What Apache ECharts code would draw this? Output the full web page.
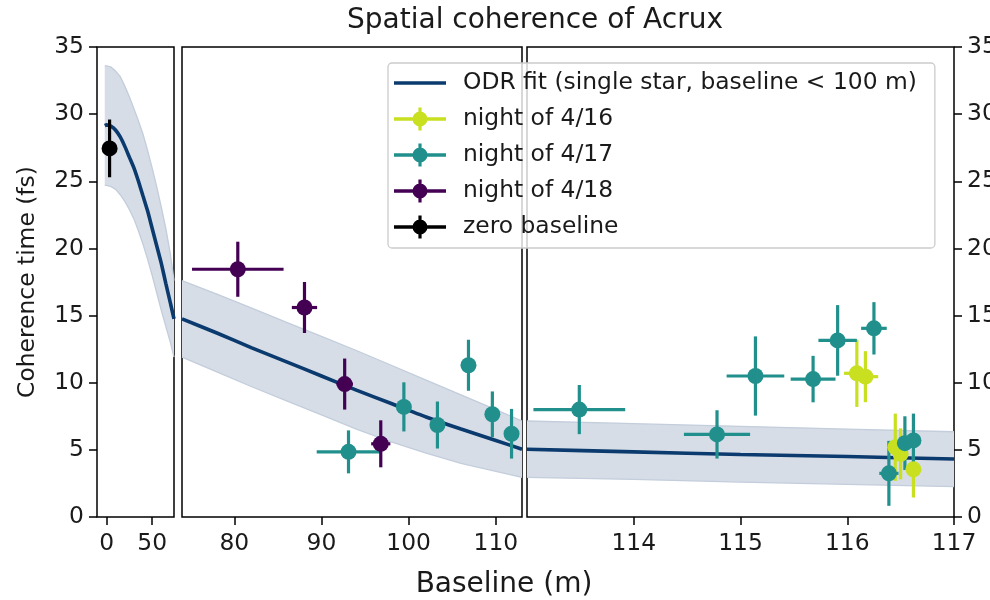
<!DOCTYPE html>
<html><head><meta charset="utf-8">
<script src="https://cdn.jsdelivr.net/npm/echarts@6/dist/echarts.min.js"></script>
<style>html,body{margin:0;padding:0;background:#fff}#c{width:990px;height:600px}</style>
</head><body><div id="c"></div>
<script>
// ---------------- data ----------------
const FIT_NAME = 'ODR fit (single star, baseline < 100 m)';
const fitBaseline = [-2, 0, 5, 10, 15, 20, 25, 30, 35, 40, 45, 50, 55, 60, 65, 70, 74, 78, 82, 86, 90, 94, 98, 102, 106, 110, 113, 114, 115, 116, 117];
const fitTime     = [29.15, 29.2, 29.1, 28.8, 28.3, 27.6, 26.8, 26.0, 25.0, 23.9, 22.8, 21.5, 20.2, 18.9, 17.4, 15.95, 14.75, 13.7, 12.6, 11.55, 10.5, 9.45, 8.45, 7.45, 6.55, 5.7, 5.05, 4.85, 4.65, 4.5, 4.32];
const fitLower    = [24.7, 24.7, 24.6, 24.4, 24.0, 23.5, 22.9, 22.2, 21.3, 20.3, 19.2, 18.0, 16.7, 15.4, 14.2, 13.0, 11.9, 10.8, 9.7, 8.65, 7.6, 6.55, 5.6, 4.75, 4.0, 3.4, 2.95, 2.8, 2.6, 2.43, 2.26];
const fitUpper    = [33.6, 33.6, 33.5, 33.2, 32.8, 32.1, 31.3, 30.4, 29.5, 28.5, 27.3, 26.0, 24.6, 23.1, 21.5, 19.6, 17.6, 16.6, 15.55, 14.5, 13.45, 12.4, 11.3, 10.2, 9.1, 8.0, 7.15, 6.95, 6.75, 6.55, 6.35];

const n16Baseline    = [116.09, 116.17, 116.45, 116.5, 116.62];
const n16Time        = [10.7, 10.45, 5.2, 4.7, 3.55];
const n16BaselineErr = [0.12, 0.12, 0.05, 0.05, 0.04];
const n16TimeErr     = [2.5, 1.9, 2.5, 1.9, 2.1];

const n17Baseline    = [93.1, 99.45, 103.3, 106.86, 109.6, 111.8, 113.49, 114.78, 115.14, 115.68, 115.91, 116.25, 116.39, 116.54, 116.62];
const n17Time        = [4.85, 8.2, 6.85, 11.3, 7.65, 6.2, 8.0, 6.15, 10.5, 10.27, 13.15, 14.05, 3.25, 5.5, 5.7];
const n17BaselineErr = [3.65, 0.5, 0.4, 0.3, 0.4, 0.4, 0.43, 0.31, 0.27, 0.21, 0.18, 0.12, 0.09, 0.05, 0.05];
const n17TimeErr     = [1.6, 1.83, 1.75, 1.9, 1.7, 1.85, 1.83, 1.8, 2.95, 1.73, 2.63, 1.95, 2.42, 2.0, 2.0];

const n18Baseline    = [80.4, 88.05, 92.66, 96.8];
const n18Time        = [18.45, 15.6, 9.9, 5.45];
const n18BaselineErr = [5.25, 1.45, 0.95, 1.1];
const n18TimeErr     = [2.05, 1.9, 1.9, 1.75];

const zeroBaseline    = [3.3];
const zeroTime        = [27.45];
const zeroBaselineErr = [0];
const zeroTimeErr     = [2.15];

const panelRanges = [[-10.5, 74], [74, 113], [113, 117]];
const xTicks = [[0, 50], [80, 90, 100, 110], [114, 115, 116, 117]];
const yTicks = [0, 5, 10, 15, 20, 25, 30, 35];

// ---------------- styling ----------------
const FONT = 'DejaVu Sans';
const FIT_COLOR = '#0b3a6e';
const BAND_FILL = '#d6dde7';
const BAND_EDGE = '#c3cddb';
const groups = [
  {name: 'night of 4/16', color: '#c8e020', b: n16Baseline, t: n16Time, be: n16BaselineErr, te: n16TimeErr},
  {name: 'night of 4/17', color: '#21908d', b: n17Baseline, t: n17Time, be: n17BaselineErr, te: n17TimeErr},
  {name: 'night of 4/18', color: '#440154', b: n18Baseline, t: n18Time, be: n18BaselineErr, te: n18TimeErr},
  {name: 'zero baseline', color: '#000000', b: zeroBaseline, t: zeroTime, be: zeroBaselineErr, te: zeroTimeErr}
];

const gridBoxes = [
  {left: 97, top: 47, width: 77, height: 470},
  {left: 182, top: 47, width: 340, height: 470},
  {left: 527, top: 47, width: 427, height: 470}
];
const grid = gridBoxes.map(g => Object.assign({}, g, {
  show: true, borderColor: '#000', borderWidth: 1.5, backgroundColor: 'transparent',
  containLabel: false, outerBoundsMode: 'none'
}));

function panelOf(b) {
  for (let i = 0; i < panelRanges.length; i++) {
    if (b >= panelRanges[i][0] && b < panelRanges[i][1]) return i;
  }
  return panelRanges.length - 1;
}

const xAxis = panelRanges.map((r, i) => ({
  type: 'value', gridIndex: i, min: r[0], max: r[1],
  axisLine: {show: false, onZero: false},
  splitLine: {show: false},
  axisTick: {show: true, inside: false, length: 8, lineStyle: {color: '#000', width: 1.5}, customValues: xTicks[i]},
  axisLabel: {show: true, customValues: xTicks[i], fontFamily: FONT, fontSize: 23.4, color: '#1a1a1a', margin: 15,
              formatter: v => String(v)}
}));

const yAxis = panelRanges.map((r, i) => {
  const showLab = (i !== 1);
  const ax = {
    type: 'value', gridIndex: i, min: 0, max: 35, interval: 5,
    position: i === 2 ? 'right' : 'left',
    axisLine: {show: false, onZero: false},
    splitLine: {show: false},
    axisTick: {show: showLab, inside: false, length: 8, lineStyle: {color: '#000', width: 1.5}, customValues: yTicks},
    axisLabel: {show: showLab, customValues: yTicks, fontFamily: FONT, fontSize: 23.4, color: '#1a1a1a', margin: 13}
  };
  if (i === 0) {
    ax.name = 'Coherence time (fs)';
    ax.nameLocation = 'middle';
    ax.nameGap = 58;
    ax.nameRotate = 90;
    ax.nameTextStyle = {fontFamily: FONT, fontSize: 23.4, color: '#1a1a1a'};
  }
  return ax;
});

const series = [];
panelRanges.forEach((r, i) => {
  const pts = [];
  for (let k = 0; k < fitBaseline.length; k++) {
    if (fitBaseline[k] >= r[0] && fitBaseline[k] <= r[1]) {
      pts.push([fitBaseline[k], fitLower[k], fitUpper[k], fitTime[k]]);
    }
  }
  series.push({
    type: 'custom', name: 'band' + i, xAxisIndex: i, yAxisIndex: i, silent: true, z: 1,
    data: pts.map(p => [p[0], p[1], p[2]]),
    renderItem: (params, api) => {
      if (params.dataIndex !== 0) return null;
      const up = pts.map(p => api.coord([p[0], p[2]]));
      const lo = pts.map(p => api.coord([p[0], p[1]]));
      return {type: 'group', children: [
        {type: 'polygon', shape: {points: up.concat(lo.slice().reverse())}, style: {fill: BAND_FILL, stroke: null}},
        {type: 'polyline', shape: {points: up}, style: {stroke: BAND_EDGE, lineWidth: 1.3, fill: null}},
        {type: 'polyline', shape: {points: lo}, style: {stroke: BAND_EDGE, lineWidth: 1.3, fill: null}}
      ]};
    }
  });
  series.push({
    type: 'line', name: FIT_NAME, xAxisIndex: i, yAxisIndex: i, silent: true, z: 2,
    data: pts.map(p => [p[0], p[3]]), showSymbol: false, symbol: 'none', smooth: 0.2,
    lineStyle: {color: FIT_COLOR, width: 3.6}, itemStyle: {color: FIT_COLOR}
  });
});

groups.forEach(g => {
  const perPanel = [[], [], []];
  for (let k = 0; k < g.b.length; k++) {
    perPanel[panelOf(g.b[k])].push([g.b[k], g.t[k], g.be[k], g.te[k]]);
  }
  perPanel.forEach((d, i) => {
    if (!d.length) return;
    series.push({
      type: 'custom', name: g.name, xAxisIndex: i, yAxisIndex: i, silent: true, z: 3,
      itemStyle: {color: g.color},
      data: d,
      renderItem: (params, api) => {
        const x = api.value(0), y = api.value(1), ex = api.value(2), ey = api.value(3);
        const l = api.coord([x - ex, y]), rr = api.coord([x + ex, y]);
        const t = api.coord([x, y + ey]), b = api.coord([x, y - ey]);
        const st = {stroke: g.color, lineWidth: 3.2, fill: null};
        return {type: 'group', children: [
          {type: 'line', shape: {x1: l[0], y1: l[1], x2: rr[0], y2: rr[1]}, style: st},
          {type: 'line', shape: {x1: t[0], y1: t[1], x2: b[0], y2: b[1]}, style: st}
        ]};
      }
    });
    series.push({
      type: 'scatter', name: g.name, xAxisIndex: i, yAxisIndex: i, silent: true, z: 3,
      data: d.map(p => [p[0], p[1]]), symbol: 'circle', symbolSize: 16,
      itemStyle: {color: g.color, opacity: 1}
    });
  });
});

// legend handle: horizontal bar, vertical bar and filled dot, all drawn clockwise so nothing is cut out
const ebIcon = 'path://M0 9.75H52V13.25H0Z M24.4 0H27.6V23H24.4Z M18.5 11.5A7.5 7.5 0 1 1 33.5 11.5A7.5 7.5 0 1 1 18.5 11.5Z';
const legendData = [{name: FIT_NAME, icon: 'path://M0 0H52V3.6H0Z', itemStyle: {color: FIT_COLOR}}]
  .concat(groups.map(g => ({name: g.name, icon: ebIcon, itemStyle: {color: g.color}})));

const option = {
  animation: false,
  backgroundColor: '#ffffff',
  title: [
    {text: 'Spatial coherence of Acrux', left: 535, top: 21, textAlign: 'center', textVerticalAlign: 'middle', padding: 0,
     textStyle: {fontFamily: FONT, fontSize: 28, fontWeight: 'normal', color: '#1a1a1a'}},
    {text: 'Baseline (m)', left: 504, top: 585, textAlign: 'center', textVerticalAlign: 'middle', padding: 0,
     textStyle: {fontFamily: FONT, fontSize: 28, fontWeight: 'normal', color: '#1a1a1a'}}
  ],
  legend: {
    orient: 'vertical', left: 388, top: 63, padding: [7, 18, 8, 6], itemGap: 10,
    itemWidth: 52, itemHeight: 23, selectedMode: false,
    backgroundColor: 'rgba(255,255,255,0.8)', borderColor: '#cccccc', borderWidth: 1.3, borderRadius: 4,
    textStyle: {fontFamily: FONT, fontSize: 23.4, color: '#1a1a1a', lineHeight: 26, padding: [0, 0, 0, 12]},
    data: legendData
  },
  grid: grid,
  xAxis: xAxis,
  yAxis: yAxis,
  series: series
};

const chart = echarts.init(document.getElementById('c'), null, {renderer: 'canvas'});
chart.setOption(option);
</script>
</body></html>
